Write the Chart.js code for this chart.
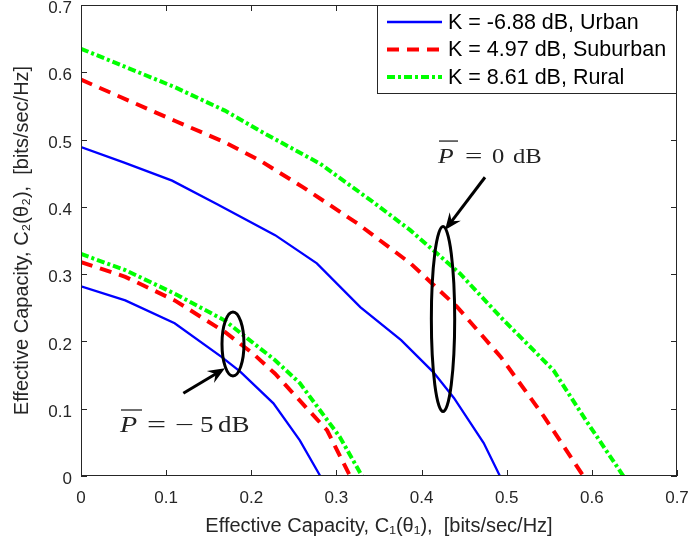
<!DOCTYPE html>
<html>
<head>
<meta charset="utf-8">
<script src="https://cdn.jsdelivr.net/npm/chart.js@4.4.1/dist/chart.umd.min.js"></script>
<style>
  html, body { margin: 0; padding: 0; background: #fff; }
</style>
</head>
<body>
<canvas id="myChart" width="690" height="546"></canvas>
<script>
// tick labels
const xTickLabels = ['0', '0.1', '0.2', '0.3', '0.4', '0.5', '0.6', '0.7'];
const yTickLabels = ['0', '0.1', '0.2', '0.3', '0.4', '0.5', '0.6', '0.7'];

const legendLabels = ['K = -6.88 dB, Urban', 'K = 4.97 dB, Suburban', 'K = 8.61 dB, Rural'];

// P = 0 dB curves
const urban0X    = [0, 0.05, 0.107, 0.16, 0.228, 0.277, 0.328, 0.376, 0.414, 0.438, 0.473, 0.492];
const urban0Y    = [0.489, 0.466, 0.439, 0.404, 0.358, 0.316, 0.251, 0.202, 0.154, 0.116, 0.049, 0];
const suburban0X = [0, 0.11, 0.169, 0.21, 0.261, 0.325, 0.387, 0.442, 0.493, 0.544, 0.59];
const suburban0Y = [0.589, 0.528, 0.496, 0.469, 0.429, 0.375, 0.316, 0.251, 0.177, 0.088, 0];
const rural0X    = [0, 0.11, 0.169, 0.21, 0.281, 0.34, 0.387, 0.445, 0.493, 0.555, 0.595, 0.637];
const rural0Y    = [0.635, 0.578, 0.543, 0.513, 0.464, 0.41, 0.365, 0.301, 0.236, 0.157, 0.079, 0];

// P = -5 dB curves
const urban5X    = [0, 0.052, 0.11, 0.165, 0.187, 0.226, 0.257, 0.281];
const urban5Y    = [0.282, 0.261, 0.227, 0.177, 0.155, 0.108, 0.053, 0];
const suburban5X = [0, 0.052, 0.11, 0.169, 0.202, 0.228, 0.249, 0.289, 0.316];
const suburban5Y = [0.318, 0.296, 0.261, 0.214, 0.182, 0.152, 0.123, 0.068, 0];
const rural5X    = [0, 0.052, 0.11, 0.169, 0.195, 0.228, 0.257, 0.304, 0.33];
const rural5Y    = [0.33, 0.306, 0.271, 0.231, 0.205, 0.172, 0.138, 0.058, 0];

// annotations, in data units
const ellipses = [
  { x: 0.4252, y: 0.2333, rx: 0.0137, ry: 0.1375 },
  { x: 0.1785, y: 0.1962, rx: 0.0129, ry: 0.0476 }
];
const arrows = [
  { x1: 0.4745, y1: 0.444, x2: 0.4275, y2: 0.3655 },
  { x1: 0.1202, y1: 0.1229, x2: 0.1691, y2: 0.160 }
];
// text pieces after the barred P: [text, offset in px from P]
const powerTexts = [
  { x: 0.4193, y: 0.4651, size: 20.5, pw: 20, parts: [['=', 27], ['0', 54], ['dB', 75]] },
  { x: 0.0458, y: 0.0654, size: 22.5, pw: 22, parts: [['=', 27], ['\u2212', 55], ['5', 80], ['dB', 98]] }
];

function pts(xs, ys) {
  return xs.map((x, i) => ({ x: x, y: ys[i] }));
}

const styles = [
  { borderColor: '#0000ff', borderWidth: 2.3, borderDash: [] },
  { borderColor: '#ff0000', borderWidth: 4, borderDash: [12, 8] },
  { borderColor: '#00ff00', borderWidth: 4, borderDash: [8, 3, 3, 3] }
];

function line(label, data, st) {
  return {
    label: label,
    data: data,
    showLine: true,
    borderColor: st.borderColor,
    backgroundColor: st.borderColor,
    borderWidth: st.borderWidth,
    borderDash: st.borderDash,
    pointRadius: 0,
    tension: 0,
    fill: false
  };
}

function stretchText(ctx, txt, x, y, sx) {
  ctx.save();
  ctx.translate(x, y);
  ctx.scale(sx, 1);
  ctx.fillText(txt, 0, 0);
  ctx.restore();
}

const boxPlugin = {
  id: 'matlabBox',
  afterDraw(chart) {
    const ctx = chart.ctx;
    const a = chart.chartArea;
    const xs = chart.scales.x, ys = chart.scales.y;
    ctx.save();

    // annotations
    ctx.strokeStyle = '#000';
    ctx.fillStyle = '#000';
    ctx.lineWidth = 3;
    ctx.setLineDash([]);
    ellipses.forEach(e => {
      const cx = xs.getPixelForValue(e.x), cy = ys.getPixelForValue(e.y);
      const rx = Math.abs(xs.getPixelForValue(e.x + e.rx) - cx);
      const ry = Math.abs(ys.getPixelForValue(e.y + e.ry) - cy);
      ctx.beginPath();
      ctx.ellipse(cx, cy, rx, ry, 0, 0, Math.PI * 2);
      ctx.stroke();
    });
    arrows.forEach(ar => {
      const x1 = xs.getPixelForValue(ar.x1), y1 = ys.getPixelForValue(ar.y1);
      const x2 = xs.getPixelForValue(ar.x2), y2 = ys.getPixelForValue(ar.y2);
      const ang = Math.atan2(y2 - y1, x2 - x1);
      const hl = 17, hw = 7;
      ctx.lineWidth = 3;
      ctx.beginPath();
      ctx.moveTo(x1, y1);
      ctx.lineTo(x2 - Math.cos(ang) * 10, y2 - Math.sin(ang) * 10);
      ctx.stroke();
      ctx.save();
      ctx.translate(x2, y2);
      ctx.rotate(ang);
      ctx.beginPath();
      ctx.moveTo(0, 0);
      ctx.lineTo(-hl, -hw);
      ctx.lineTo(-hl + 6, 0);
      ctx.lineTo(-hl, hw);
      ctx.closePath();
      ctx.fill();
      ctx.restore();
    });

    ctx.fillStyle = '#222';
    ctx.strokeStyle = '#222';
    ctx.textBaseline = 'alphabetic';
    ctx.textAlign = 'left';
    powerTexts.forEach(t => {
      const px = xs.getPixelForValue(t.x), py = ys.getPixelForValue(t.y);
      ctx.font = 'italic ' + t.size + 'px "Liberation Serif"';
      stretchText(ctx, 'P', px, py, 1.25);
      ctx.lineWidth = 1.3;
      ctx.beginPath();
      ctx.moveTo(px + 1, py - 22);
      ctx.lineTo(px + t.pw, py - 22);
      ctx.stroke();
      ctx.font = t.size + 'px "Liberation Serif"';
      t.parts.forEach(p => stretchText(ctx, p[0], px + p[1], py, p[0] === '=' || p[0] === '\u2212' ? 1.5 : 1.2));
    });

    // axes box with inward ticks
    ctx.strokeStyle = '#262626';
    ctx.lineWidth = 1;
    ctx.strokeRect(a.left + 0.5, a.top + 0.5, a.right - a.left - 1, a.bottom - a.top - 1);
    const tl = 6;
    ctx.beginPath();
    xs.ticks.forEach(tk => {
      const p = Math.round(xs.getPixelForValue(tk.value)) + 0.5;
      ctx.moveTo(p, a.bottom); ctx.lineTo(p, a.bottom - tl);
      ctx.moveTo(p, a.top); ctx.lineTo(p, a.top + tl);
    });
    ys.ticks.forEach(tk => {
      const p = Math.round(ys.getPixelForValue(tk.value)) + 0.5;
      ctx.moveTo(a.left, p); ctx.lineTo(a.left + tl, p);
      ctx.moveTo(a.right, p); ctx.lineTo(a.right - tl, p);
    });
    ctx.stroke();

    // legend box, top right
    const bw = 300, bh = 89;
    const bx = a.right - bw, by = a.top;
    ctx.fillStyle = '#fff';
    ctx.fillRect(bx, by, bw, bh);
    ctx.strokeStyle = '#262626';
    ctx.lineWidth = 1;
    ctx.strokeRect(bx + 0.5, by + 0.5, bw - 1, bh - 1);
    ctx.font = '21.5px "Liberation Sans"';
    ctx.textBaseline = 'middle';
    ctx.textAlign = 'left';
    for (let i = 0; i < 3; i++) {
      const ds = chart.data.datasets[i];
      const ly = by + 17 + i * 27.5;
      ctx.strokeStyle = ds.borderColor;
      ctx.lineWidth = ds.borderWidth;
      ctx.setLineDash(ds.borderDash);
      ctx.beginPath();
      ctx.moveTo(bx + 10, ly);
      ctx.lineTo(bx + 65, ly);
      ctx.stroke();
      ctx.setLineDash([]);
      ctx.fillStyle = '#000';
      ctx.fillText(ds.label, bx + 71, ly + 1);
    }
    ctx.restore();
  }
};

function noPad(s) {
  s.paddingLeft = 0; s.paddingRight = 0; s.paddingTop = 0; s.paddingBottom = 0;
}

const ctx = document.getElementById('myChart');
new Chart(ctx, {
  type: 'scatter',
  data: {
    datasets: [
      line(legendLabels[0], pts(urban0X, urban0Y), styles[0]),
      line(legendLabels[1], pts(suburban0X, suburban0Y), styles[1]),
      line(legendLabels[2], pts(rural0X, rural0Y), styles[2]),
      line('', pts(urban5X, urban5Y), styles[0]),
      line('', pts(suburban5X, suburban5Y), styles[1]),
      line('', pts(rural5X, rural5Y), styles[2])
    ]
  },
  options: {
    responsive: false,
    animation: false,
    layout: { padding: { left: 0, top: 5, right: 13, bottom: 0 } },
    plugins: {
      legend: { display: false },
      tooltip: { enabled: false }
    },
    scales: {
      x: {
        type: 'linear',
        min: 0,
        max: 0.7,
        afterFit: s => { s.height = 70; noPad(s); },
        afterBuildTicks: s => { s.ticks = xTickLabels.map(t => ({ value: parseFloat(t) })); },
        grid: { display: false, drawTicks: false },
        border: { display: false },
        ticks: {
          padding: 12,
          color: '#262626',
          font: { family: 'Liberation Sans', size: 17 },
          callback: (v, i) => xTickLabels[i]
        },
        title: {
          display: true,
          text: 'Effective Capacity, C\u2081(\u03b8\u2081),  [bits/sec/Hz]',
          color: '#262626',
          font: { family: 'Liberation Sans', size: 20 },
          padding: { top: 0, bottom: 8 }
        }
      },
      y: {
        type: 'linear',
        min: 0,
        max: 0.7,
        afterFit: s => { s.width = 81; noPad(s); },
        afterBuildTicks: s => { s.ticks = yTickLabels.map(t => ({ value: parseFloat(t) })); },
        grid: { display: false, drawTicks: false },
        border: { display: false },
        ticks: {
          padding: 9,
          labelOffset: 3.5,
          color: '#262626',
          font: { family: 'Liberation Sans', size: 17 },
          callback: (v, i) => yTickLabels[i]
        },
        title: {
          display: true,
          text: 'Effective Capacity, C\u2082(\u03b8\u2082),  [bits/sec/Hz]',
          color: '#262626',
          font: { family: 'Liberation Sans', size: 20 },
          padding: { top: 10, bottom: 0 }
        }
      }
    }
  },
  plugins: [boxPlugin]
});
</script>
</body>
</html>
